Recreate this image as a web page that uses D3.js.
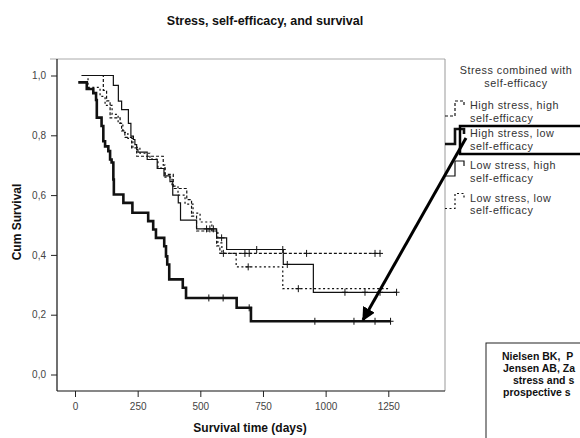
<!DOCTYPE html>
<html><head><meta charset="utf-8">
<script src="https://cdn.jsdelivr.net/npm/d3@7/dist/d3.min.js"></script>
<style>body{margin:0;background:#fff}svg{display:block}text{font-family:Arial,"Liberation Sans",sans-serif;white-space:pre}</style>
</head><body><svg id="c" width="580" height="438"></svg>
<script>
// ---- data ----
const groupNames = ["High stress, high self-efficacy","High stress, low self-efficacy","Low stress, high self-efficacy","Low stress, low self-efficacy"];
const legendLines = [["High stress, high","self-efficacy"],["High stress, low","self-efficacy"],["Low stress, high","self-efficacy"],["Low stress, low","self-efficacy"]];
const hsHseTimes = [27,113,126,140,180,186,199,226,246,352,359,392,446,465,485,565,578,1217];
const hsHseSurv  = [1.0,0.95,0.915,0.858,0.84,0.815,0.793,0.758,0.73,0.70,0.669,0.622,0.585,0.53,0.48,0.43,0.405,0.405];
const hsHseCens  = [592,678,695,924,1197,1217];
const hsLseTimes = [13,47,73,84,87,106,113,120,133,140,146,153,155,193,229,292,312,323,356,363,368,376,430,443,645,702,1259];
const hsLseSurv  = [0.977,0.955,0.941,0.918,0.859,0.831,0.78,0.763,0.747,0.719,0.709,0.652,0.602,0.574,0.541,0.513,0.485,0.457,0.429,0.395,0.368,0.318,0.29,0.256,0.223,0.178,0.178];
const hsLseCens  = [534,591,695,957,1113,1197,1259];
const lsHseTimes = [27,153,173,186,213,223,233,239,246,251,288,328,355,379,390,412,421,485,565,605,831,951,1283];
const lsHseSurv  = [1.0,0.967,0.914,0.886,0.84,0.797,0.786,0.769,0.753,0.744,0.719,0.689,0.664,0.645,0.60,0.574,0.516,0.487,0.457,0.418,0.368,0.275,0.275];
const lsHseCens  = [525,538,552,585,725,829,847,1077,1157,1217,1283];
const lsLseTimes = [27,52,100,120,148,172,191,211,231,259,299,331,359,387,411,439,471,499,546,570,586,643,829,1250];
const lsLseSurv  = [1.0,0.96,0.93,0.90,0.87,0.84,0.81,0.79,0.76,0.74,0.72,0.69,0.66,0.63,0.60,0.57,0.54,0.51,0.48,0.44,0.405,0.36,0.287,0.287];
const lsLseCens  = [691,891];
const xTicks = [0,250,500,750,1000,1250];
const yTicks = [0,0.2,0.4,0.6,0.8,1.0];
const noteLines = ["Nielsen BK,  P","Jensen AB, Za","stress and s","prospective s"];

// ---- layout ----
const svg = d3.select("#c");
const F = {l:57, r:445, t:59, b:391};
const x = d3.scaleLinear().domain([0,1250]).range([75,388.3]);
const y = d3.scaleLinear().domain([0,1]).range([374.5,75.5]);
const styles = [
  {w:1.2, dash:"3,2"},
  {w:2.6, dash:null},
  {w:1.2, dash:null},
  {w:1.2, dash:"2,2.5"}
];
const series = [
  {t:hsHseTimes,s:hsHseSurv,c:hsHseCens},
  {t:hsLseTimes,s:hsLseSurv,c:hsLseCens},
  {t:lsHseTimes,s:lsHseSurv,c:lsHseCens},
  {t:lsLseTimes,s:lsLseSurv,c:lsLseCens}
];

// title
svg.append("text").attr("x",265).attr("y",25).attr("text-anchor","middle")
  .attr("font-size",12.5).attr("font-weight","bold").attr("fill","#111").text("Stress, self-efficacy, and survival");

// frame
svg.append("line").attr("x1",50).attr("x2",F.r).attr("y1",F.t).attr("y2",F.t).attr("stroke","#aaa").attr("stroke-width",1);
svg.append("line").attr("x1",F.r).attr("x2",F.r).attr("y1",F.t).attr("y2",F.b).attr("stroke","#999").attr("stroke-width",1);
svg.append("line").attr("x1",F.l).attr("x2",F.l).attr("y1",F.t).attr("y2",F.b).attr("stroke","#111").attr("stroke-width",1.2);
svg.append("line").attr("x1",F.l).attr("x2",F.r).attr("y1",F.b).attr("y2",F.b).attr("stroke","#111").attr("stroke-width",1.2);

// axes
const fmt = d => d3.format(".1f")(d).replace(".",",");
const gx = svg.append("g").attr("transform",`translate(0,${F.b})`)
  .call(d3.axisBottom(x).tickValues(xTicks).tickFormat(d3.format("d")).tickSize(6).tickPadding(6));
const gy = svg.append("g").attr("transform",`translate(${F.l},0)`)
  .call(d3.axisLeft(y).tickValues(yTicks).tickFormat(fmt).tickSize(6).tickPadding(5));
[gx,gy].forEach(g=>{
  g.select(".domain").remove();
  g.selectAll("line").attr("stroke","#222");
  g.selectAll("text").attr("font-size",10).attr("fill","#444").attr("font-family","Arial, 'Liberation Sans', sans-serif");
});

svg.append("text").attr("x",250).attr("y",432).attr("text-anchor","middle")
  .attr("font-size",12).attr("font-weight","bold").attr("fill","#111").text("Survival time (days)");
svg.append("text").attr("transform","translate(21,222) rotate(-90)").attr("text-anchor","middle")
  .attr("font-size",12).attr("font-weight","bold").attr("fill","#111").text("Cum Survival");

// curves
const line = d3.line().x(d=>x(d[0])).y(d=>y(d[1])).curve(d3.curveStepAfter);
series.forEach((sr,i)=>{
  const pts = sr.t.map((t,j)=>[t,sr.s[j]]);
  const p = svg.append("path").attr("d",line(pts)).attr("fill","none")
    .attr("stroke","#111").attr("stroke-width",styles[i].w);
  if(styles[i].dash) p.attr("stroke-dasharray",styles[i].dash);
  const survAt = tt => { let v = sr.s[0]; for(let j=0;j<sr.t.length;j++){ if(sr.t[j]<=tt) v = sr.s[j]; } return v; };
  const g = svg.append("g");
  sr.c.forEach(ct=>{
    const cx = x(ct), cy = y(survAt(ct));
    g.append("line").attr("x1",cx).attr("x2",cx).attr("y1",cy-3.5).attr("y2",cy+3.5).attr("stroke","#111").attr("stroke-width",1);
    g.append("line").attr("x1",cx-3).attr("x2",cx+3).attr("y1",cy).attr("y2",cy).attr("stroke","#111").attr("stroke-width",1);
  });
});

// legend
const LF = 10.8, LS = 0.5, LH = 12.5;
svg.append("text").attr("x",516).attr("y",74).attr("text-anchor","middle").attr("font-size",LF).attr("letter-spacing",LS).attr("fill","#333").text("Stress combined with");
svg.append("text").attr("x",516).attr("y",74+LH).attr("text-anchor","middle").attr("font-size",LF).attr("letter-spacing",LS).attr("fill","#333").text("self-efficacy");
const legTop = [109,137,169,201.5];
legendLines.forEach((ls,i)=>{
  const y0 = legTop[i];
  svg.append("text").attr("x",470).attr("y",y0).attr("font-size",LF).attr("letter-spacing",LS).attr("fill","#333").text(ls[0]);
  svg.append("text").attr("x",470).attr("y",y0+LH).attr("font-size",LF).attr("letter-spacing",LS).attr("fill","#333").text(ls[1]);
  const yb = y0+7, yt = y0-8;
  const p = d3.path();
  p.moveTo(445,yb); p.lineTo(455,yb); p.lineTo(455,yt); p.lineTo(464,yt); p.lineTo(464,yt+5);
  const sp = svg.append("path").attr("d",p.toString()).attr("fill","none").attr("stroke","#111").attr("stroke-width",styles[i].w);
  if(styles[i].dash) sp.attr("stroke-dasharray",styles[i].dash);
});
// highlight box
svg.append("rect").attr("x",460).attr("y",126).attr("width",130).attr("height",28)
  .attr("fill","none").attr("stroke","#000").attr("stroke-width",2.5);

// arrow
svg.append("defs").append("marker").attr("id","ah").attr("viewBox","0 0 10 10").attr("refX",9).attr("refY",5)
  .attr("markerWidth",4.5).attr("markerHeight",4.5).attr("orient","auto")
  .append("path").attr("d","M0,0 L10,5 L0,10 z").attr("fill","#000");
svg.append("line").attr("x1",466).attr("y1",138).attr("x2",363).attr("y2",320)
  .attr("stroke","#000").attr("stroke-width",3).attr("marker-end","url(#ah)");

// note box
svg.append("rect").attr("x",486).attr("y",343).attr("width",110).attr("height",110)
  .attr("fill","#fff").attr("stroke","#222").attr("stroke-width",1);
const noteX = [502,503,513,503];
noteLines.forEach((t,i)=>{
  svg.append("text").attr("x",noteX[i]).attr("y",359.5+i*12.2).attr("font-size",10.5).attr("font-weight","bold").attr("fill","#111").text(t);
});
</script></body></html>
